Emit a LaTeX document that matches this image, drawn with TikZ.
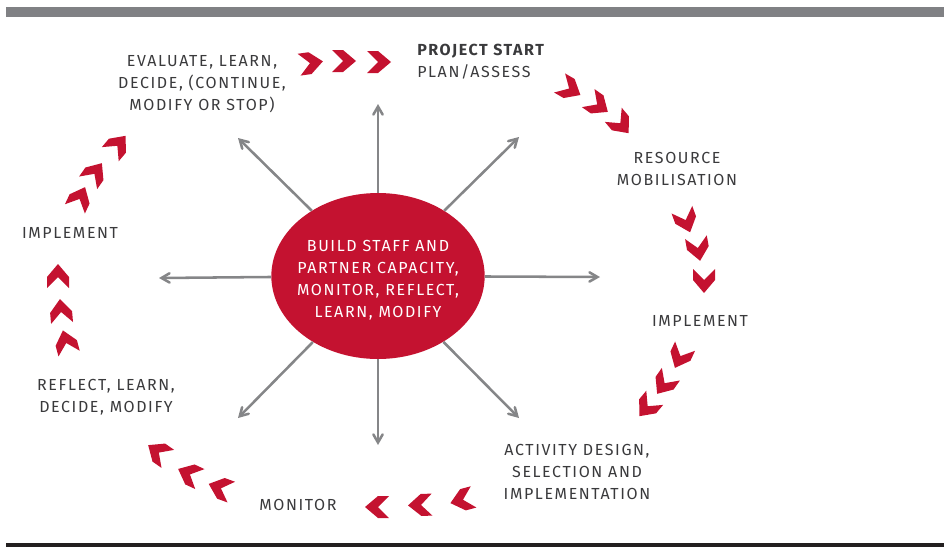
\documentclass[tikz,border=0pt]{standalone}
\usepackage{fontspec}
\usetikzlibrary{shapes,arrows}
\newfontfamily\lblfont[LetterSpace=10]{Fira Sans}
\definecolor{cyclered}{HTML}{C41230}
\definecolor{spokegray}{HTML}{858688}
\definecolor{lbltext}{HTML}{3A3A3C}
\definecolor{bargray}{HTML}{808184}
\definecolor{bardark}{HTML}{231F20}
\tikzset{
  stage/.style={align=center,text=lbltext,font=\lblfont\fontsize{12}{16.5}\selectfont,inner sep=0pt},
  spoke/.style={draw=spokegray,line width=1.9pt,->,>=angle 60},
  chev/.pic={\fill[cyclered] (-12,-11) -- (-1,-11) -- (12,0) -- (-1,11) -- (-12,11) -- (-1,0) -- cycle;}
}
\begin{document}
\begin{tikzpicture}[x=0.75pt,y=-0.75pt]
          \useasboundingbox (0,0) rectangle (944,547);
          \fill[bargray] (6,7) rectangle (944,17);
          \fill[bardark] (6,543) rectangle (944,547);
          \coordinate (n) at (378,104);
          \coordinate (s) at (378,445);
          \coordinate (w) at (159,278);
          \coordinate (e) at (600,277);
          \coordinate (nw) at (238,138);
          \coordinate (ne) at (519,137);
          \coordinate (sw) at (238,418);
          \coordinate (se) at (519,418);
          \node[ellipse,fill=cyclered,minimum width=160pt,minimum height=124.5pt,inner sep=0pt] (hub) at (378,276) {};
          \draw[spoke] (hub) -- (n);
          \draw[spoke] (hub) -- (s);
          \draw[spoke] (hub) -- (w);
          \draw[spoke] (hub) -- (e);
          \draw[spoke] (hub) -- (nw);
          \draw[spoke] (hub) -- (ne);
          \draw[spoke] (hub) -- (sw);
          \draw[spoke] (hub) -- (se);
          \node[stage,text=white] (hubtext) at (378,280)
                {BUILD STAFF AND\\PARTNER CAPACITY,\\MONITOR, REFLECT,\\LEARN, MODIFY};
          \node[stage,align=left,anchor=west] (start) at (417,61.5) {{\bfseries PROJECT START}\\PLAN/ASSESS};
          \node[stage] (resource) at (677,168.5) {RESOURCE\\MOBILISATION};
          \node[stage] (impright) at (700,321) {IMPLEMENT};
          \node[stage] (activity) at (577,471.5) {ACTIVITY DESIGN,\\SELECTION AND\\IMPLEMENTATION};
          \node[stage] (monitor) at (298,505) {MONITOR};
          \node[stage] (reflect) at (106,397.5) {REFLECT, LEARN,\\DECIDE, MODIFY};
          \node[stage] (impleft) at (70,233) {IMPLEMENT};
          \node[stage] (evaluate) at (202,84) {EVALUATE, LEARN,\\DECIDE, (CONTINUE,\\MODIFY OR STOP)};
          \pic[rotate=8] at (311,63) {chev};
          \pic at (344,61) {chev};
          \pic at (379,62) {chev};
          \pic[rotate=-30] at (570,89) {chev};
          \pic[rotate=-35] at (598,105) {chev};
          \pic[rotate=-50] at (621,124) {chev};
          \pic[rotate=-70] at (686,221) {chev};
          \pic[rotate=-80] at (698,249) {chev};
          \pic[rotate=-90] at (704,281) {chev};
          \pic[rotate=-115] at (680,357) {chev};
          \pic[rotate=-125] at (664,384) {chev};
          \pic[rotate=-130] at (647,407) {chev};
          \pic[rotate=-165] at (462,500) {chev};
          \pic[rotate=-178] at (420,505) {chev};
          \pic[rotate=-180] at (377,507) {chev};
          \pic[rotate=-200] at (220,488) {chev};
          \pic[rotate=-205] at (189,474) {chev};
          \pic[rotate=-215] at (158,452) {chev};
          \pic[rotate=-255] at (66,342) {chev};
          \pic[rotate=-265] at (61,311) {chev};
          \pic[rotate=-270] at (58,276) {chev};
          \pic[rotate=-295] at (80,198) {chev};
          \pic[rotate=-305] at (95,173) {chev};
          \pic[rotate=-310] at (118,145) {chev};
        \end{tikzpicture}
\end{document}
